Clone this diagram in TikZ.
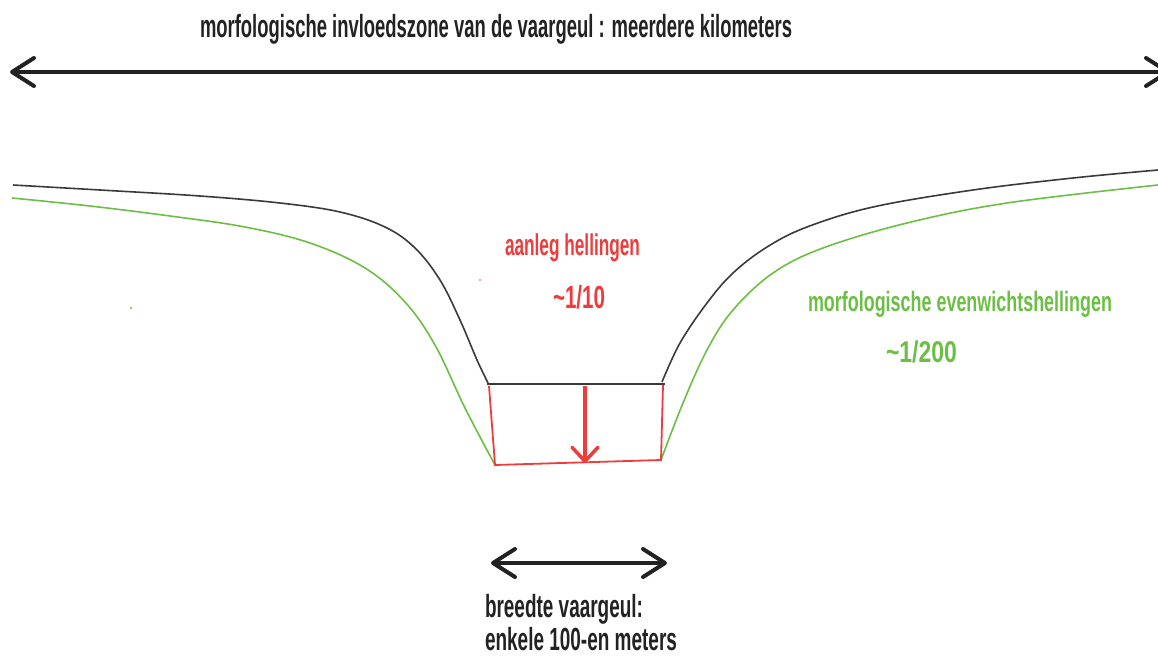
\documentclass[tikz,border=0pt]{standalone}
\usepackage{fontspec}
\setmainfont{Liberation Sans}
\usepackage{graphicx}
\usetikzlibrary{arrows.meta}
\definecolor{inkgray}{HTML}{222222}
\definecolor{linegray}{HTML}{3A3A3A}
\definecolor{mygreen}{HTML}{6CBE45}
\definecolor{myred}{HTML}{EE3B3B}
\newcommand\fitw[2]{\resizebox{#1}{\height}{#2}}
\tikzset{
  lbl/.style={anchor=base west, inner sep=0pt, outer sep=0pt, font=\bfseries\fontsize{32}{36}\selectfont},
  dimarrow/.style={draw=inkgray, line width=4pt, {Straight Barb[length=22pt,width=28pt,line cap=round,line join=round]}-{Straight Barb[length=22pt,width=28pt,line cap=round,line join=round]}},
  bed/.style={draw=linegray, line width=1.6pt},
  eq/.style={draw=mygreen, line width=1.6pt},
  cut/.style={draw=myred, line width=1.8pt}
}
\begin{document}
\begin{tikzpicture}[x=1pt,y=-1pt]
\useasboundingbox (0,0) rectangle (1158,656);
\clip (0,0) rectangle (1158,656);

% top dimension
\node[lbl, text=inkgray] (ttop) at (200,37) {\fitw{592pt}{morfologische invloedszone van de vaargeul : meerdere kilometers}};
\coordinate (tl) at (10,72);
\coordinate (tr) at (1170,72);
\draw[dimarrow] (tl) -- (tr);

% original bed (black)
\draw[bed] plot[smooth, tension=0.6] coordinates {(13,185) (100,190) (200,196) (280,203) (340,212) (385,227) (415,248) (440,280) (460,320) (477,360) (488,383)};
\draw[bed] plot[smooth, tension=0.6] coordinates {(662,382) (680,343) (707,303) (733,273) (767,247) (807,227) (873,207) (973,190) (1073,178) (1158,170)};
\coordinate (bl0) at (487,384);
\coordinate (br0) at (665,384);
\draw[bed] (bl0) -- (br0);

% equilibrium slopes (green)
\draw[eq] plot[smooth, tension=0.6] coordinates {(12,198) (90,206) (170,216) (245,227) (310,243) (365,268) (405,302) (435,345) (465,408) (495,465)};
\draw[eq] plot[smooth, tension=0.6] coordinates {(661,460) (683,403) (707,350) (733,310) (773,273) (823,248) (907,223) (1007,203) (1158,185)};
\fill[mygreen] (131,308) circle (1.2);

% dredged channel (red)
\coordinate (c1) at (489,386);
\coordinate (c2) at (495,465);
\coordinate (c3) at (661,460);
\coordinate (c4) at (663,385);
\draw[cut] (c1) -- (c2) -- (c3) -- (c4);
\coordinate (ra) at (585,386);
\coordinate (rb) at (585,463);
\draw[draw=myred, line width=3.5pt, -{Straight Barb[length=14pt,width=26pt,line cap=round,line join=round]}] (ra) -- (rb);
\fill[myred] (480,280) circle (0.8);

% labels
\node[lbl, text=myred, font=\bfseries\fontsize{30}{34}\selectfont] (aanleg) at (505,255) {\fitw{135pt}{aanleg hellingen}};
\node[lbl, text=myred, font=\bfseries\fontsize{32}{36}\selectfont] (s10) at (553,308) {\fitw{52pt}{\textasciitilde1/10}};
\node[lbl, text=mygreen, font=\bfseries\fontsize{28}{32}\selectfont] (evw) at (808,311) {\fitw{304pt}{morfologische evenwichtshellingen}};
\node[lbl, text=mygreen, font=\bfseries\fontsize{30}{34}\selectfont] (s200) at (886,362) {\fitw{71pt}{\textasciitilde1/200}};

% bottom dimension
\coordinate (bl) at (491,563);
\coordinate (br) at (667,563);
\draw[dimarrow] (bl) -- (br);
\node[lbl, text=inkgray] (bw1) at (485,617) {\fitw{158pt}{breedte vaargeul:}};
\node[lbl, text=inkgray] (bw2) at (485,650) {\fitw{192pt}{enkele 100-en meters}};
\end{tikzpicture}
\end{document}
